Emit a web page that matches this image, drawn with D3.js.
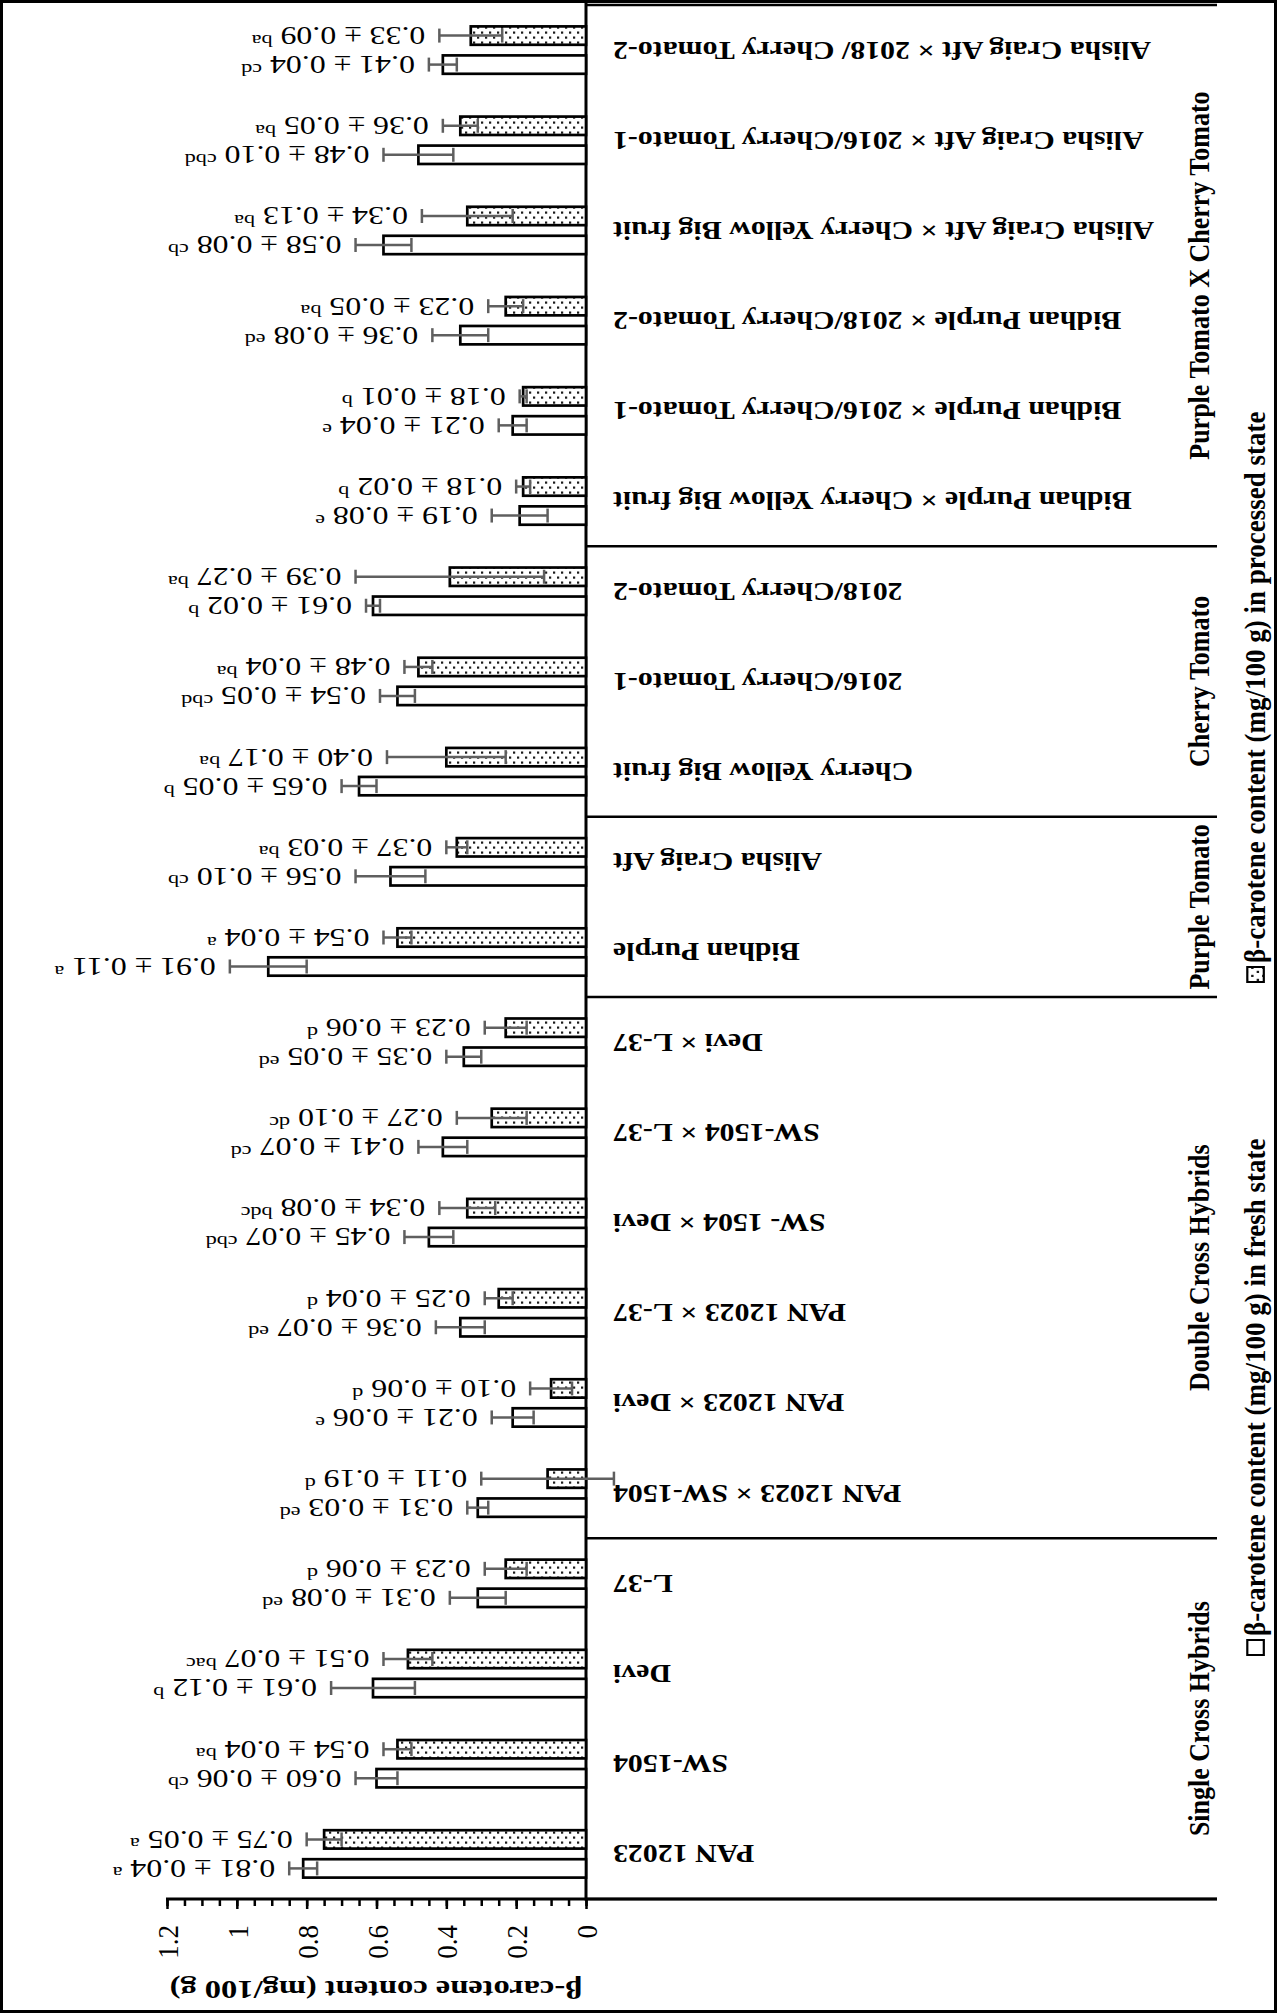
<!DOCTYPE html>
<html>
<head>
<meta charset="utf-8">
<script src="https://cdn.jsdelivr.net/npm/d3@7/dist/d3.min.js"></script>
<style>
  body { margin: 0; background: #fff; }
  svg { display: block; }
  text { font-family: "Liberation Serif", "Times New Roman", serif; fill: #000; }
</style>
</head>
<body>
<svg id="chart" width="1277" height="2013"></svg>
<script>
// Genotypes, in order along the category axis
const categories = [
  "PAN 12023", "SW-1504", "Devi", "L-37",
  "PAN 12023 × SW-1504", "PAN 12023 × Devi", "PAN 12023 × L-37",
  "SW- 1504 × Devi", "SW-1504 × L-37", "Devi × L-37",
  "Bidhan Purple", "Alisha Craig Aft",
  "Cherry Yellow Big fruit", "2016/Cherry Tomato-1", "2018/Cherry Tomato-2",
  "Bidhan Purple × Cherry Yellow Big fruit", "Bidhan Purple × 2016/Cherry Tomato-1",
  "Bidhan Purple × 2018/Cherry Tomato-2", "Alisha Craig Aft × Cherry Yellow Big fruit",
  "Alisha Craig Aft × 2016/Cherry Tomato-1", "Alisha Craig Aft × 2018/ Cherry Tomato-2"
];

// Genotype groups and how many genotypes each one holds
const groupNames = ["Single Cross Hybrids", "Double Cross Hybrids", "Purple Tomato",
                    "Cherry Tomato", "Purple Tomato X Cherry Tomato"];
const groupSizes = [4, 6, 2, 3, 6];

// β-carotene (mg/100 g), fresh fruit: mean, SD, significance letters
const freshMean = [0.81, 0.60, 0.61, 0.31, 0.31, 0.21, 0.36, 0.45, 0.41, 0.35,
                   0.91, 0.56, 0.65, 0.54, 0.61, 0.19, 0.21, 0.36, 0.58, 0.48, 0.41];
const freshSD   = [0.04, 0.06, 0.12, 0.08, 0.03, 0.06, 0.07, 0.07, 0.07, 0.05,
                   0.11, 0.10, 0.05, 0.05, 0.02, 0.08, 0.04, 0.08, 0.08, 0.10, 0.04];
const freshSig  = ["a", "cb", "b", "ed", "ed", "e", "ed", "cbd", "cd", "ed",
                   "a", "cb", "b", "cbd", "b", "e", "e", "ed", "cb", "cbd", "cd"];

// β-carotene (mg/100 g), processed product: mean, SD, significance letters
const procMean = [0.75, 0.54, 0.51, 0.23, 0.11, 0.10, 0.25, 0.34, 0.27, 0.23,
                  0.54, 0.37, 0.40, 0.48, 0.39, 0.18, 0.18, 0.23, 0.34, 0.36, 0.33];
const procSD   = [0.05, 0.04, 0.07, 0.06, 0.19, 0.06, 0.04, 0.08, 0.10, 0.06,
                  0.04, 0.03, 0.17, 0.04, 0.27, 0.02, 0.01, 0.05, 0.13, 0.05, 0.09];
const procSig  = ["a", "ba", "bac", "d", "d", "d", "d", "bdc", "dc", "d",
                  "a", "ba", "ba", "ba", "ba", "b", "b", "ba", "ba", "ba", "ba"];

// Value axis
const valueTicks = [0, 0.2, 0.4, 0.6, 0.8, 1, 1.2];
const valueTickLabels = ["0", "0.2", "0.4", "0.6", "0.8", "1", "1.2"];
const axisTitle = "β-carotene content (mg/100 g)";
const seriesKeys = ["processed", "fresh"];
const legendLabels = {
  fresh: "β-carotene content (mg/100 g) in fresh state",
  processed: "β-carotene content (mg/100 g) in processed state"
};

const svg = d3.select("#chart");

// dotted fill for the processed series
const defs = svg.append("defs");
const pat = defs.append("pattern").attr("id", "dots")
  .attr("patternUnits", "userSpaceOnUse").attr("width", 8).attr("height", 10);
pat.append("rect").attr("width", 8).attr("height", 10).attr("fill", "#fff");
pat.append("rect").attr("x", 1).attr("y", 1.5).attr("width", 2.2).attr("height", 2.2).attr("fill", "#1a1a1a");
pat.append("rect").attr("x", 5).attr("y", 6.5).attr("width", 2.2).attr("height", 2.2).attr("fill", "#1a1a1a");

// outer frame
svg.append("rect").attr("x", 1.5).attr("y", 1.5).attr("width", 1274).attr("height", 2010)
  .attr("fill", "none").attr("stroke", "#000").attr("stroke-width", 3);

// the chart is laid out turned on its side: values run leftwards, genotypes run upwards
const axisY = 1899, plotTop = 5;
const x = d3.scaleLinear().domain([0, 1.2]).range([586, 167]);
const y = d3.scaleBand().domain(categories).range([axisY, plotTop]);
const bw = y.bandwidth();
const ySub = d3.scaleBand().domain(seriesKeys).range([bw / 2 - 25, bw / 2 + 25]).paddingInner(0.276);

// rotated, stretched text helper
function rtext(parent, px, py, angle, sx, sy, str, size, weight, anchor) {
  return parent.append("text")
    .attr("transform", `translate(${px},${py}) rotate(${angle}) scale(${sx},${sy})`)
    .attr("text-anchor", anchor).attr("dy", "0.35em")
    .attr("font-size", size).attr("font-weight", weight)
    .text(str);
}

// value axis (minor + major ticks)
const minorAxis = d3.axisBottom(x).tickValues(d3.range(0, 1.2001, 0.05)).tickSize(7).tickFormat("");
svg.append("g").attr("transform", `translate(0,${axisY})`).call(minorAxis)
  .call(g => g.select(".domain").remove())
  .call(g => g.selectAll("line").attr("stroke", "#000").attr("stroke-width", 2.5));

const majorAxis = d3.axisBottom(x).tickValues(valueTicks).tickSize(10)
  .tickFormat((d, i) => valueTickLabels[i]);
svg.append("g").attr("transform", `translate(0,${axisY})`).call(majorAxis)
  .call(g => g.select(".domain").remove())
  .call(g => g.selectAll("line").attr("stroke", "#000").attr("stroke-width", 2.5))
  .call(g => g.selectAll("text")
    .attr("transform", "rotate(-90) scale(1,1.12)")
    .attr("x", -26).attr("y", 0).attr("dy", "0.35em")
    .attr("text-anchor", "end")
    .attr("font-size", 27)
    .attr("font-family", "Liberation Serif, serif")
    .attr("fill", "#000"));

// axis baseline, continuing under the genotype labels
svg.append("line").attr("x1", x(1.2) - 1).attr("x2", 1217).attr("y1", axisY).attr("y2", axisY)
  .attr("stroke", "#000").attr("stroke-width", 3);

// category axis
const catScale = 1.22;
const catAxis = d3.axisRight(y).tickSize(0).tickPadding(0);
svg.append("g").attr("transform", `translate(${x(0)},0)`).call(catAxis)
  .call(g => g.select(".domain").remove())
  .call(g => g.selectAll("text")
    .attr("transform", `rotate(180) scale(${catScale},1)`)
    .attr("x", -27 / catScale).attr("y", 0).attr("dy", "0.35em")
    .attr("text-anchor", "end")
    .attr("font-size", 24.5).attr("font-weight", "bold")
    .attr("font-family", "Liberation Serif, serif")
    .attr("fill", "#000"));
svg.append("line").attr("x1", x(0)).attr("x2", x(0)).attr("y1", plotTop - 2).attr("y2", axisY + 1.5)
  .attr("stroke", "#000").attr("stroke-width", 3);

// group dividers and group names
let start = 0;
const bounds = [0];
groupSizes.forEach(n => { start += n; bounds.push(start); });
bounds.forEach(b => {
  const yy = b === 0 ? axisY : y(categories[b - 1]);
  svg.append("line").attr("x1", x(0)).attr("x2", 1217).attr("y1", yy).attr("y2", yy)
    .attr("stroke", "#000").attr("stroke-width", 2.5);
});
groupNames.forEach((name, i) => {
  const lo = bounds[i] === 0 ? axisY : y(categories[bounds[i] - 1]);
  const hi = y(categories[bounds[i + 1] - 1]);
  rtext(svg, 1199, (lo + hi) / 2, -90, 1, 1.1, name, 26, "bold", "middle");
});

// bars, error bars and value labels
const series = [
  { key: "fresh", mean: freshMean, sd: freshSD, sig: freshSig, fill: "#fff" },
  { key: "processed", mean: procMean, sd: procSD, sig: procSig, fill: "url(#dots)" }
];
const plot = svg.append("g");
series.forEach(s => {
  const rows = categories.map((c, i) => ({ c, v: s.mean[i], e: s.sd[i], sig: s.sig[i] }));
  const g = plot.append("g");
  g.selectAll("rect").data(rows).join("rect")
    .attr("x", d => x(d.v)).attr("width", d => x(0) - x(d.v))
    .attr("y", d => y(d.c) + ySub(s.key) + 1.3).attr("height", ySub.bandwidth() - 2.6)
    .attr("fill", s.fill).attr("stroke", "#000").attr("stroke-width", 2.7);

  const eb = g.selectAll("g.err").data(rows).join("g").attr("class", "err")
    .attr("transform", d => `translate(0,${y(d.c) + ySub(s.key) + ySub.bandwidth() / 2})`)
    .attr("stroke", "#5f5f5f").attr("stroke-width", 2.5);
  eb.append("line").attr("x1", d => x(d.v - d.e)).attr("x2", d => x(d.v + d.e)).attr("y1", 0).attr("y2", 0);
  eb.append("line").attr("x1", d => x(d.v - d.e)).attr("x2", d => x(d.v - d.e)).attr("y1", -7).attr("y2", 7);
  eb.append("line").attr("x1", d => x(d.v + d.e)).attr("x2", d => x(d.v + d.e)).attr("y1", -7).attr("y2", 7);

  rows.forEach(d => {
    const t = g.append("text")
      .attr("transform", `translate(${x(d.v + d.e) - 14},${y(d.c) + ySub(s.key) + ySub.bandwidth() / 2}) rotate(180) scale(1.3,1)`)
      .attr("text-anchor", "start").attr("dy", "0.35em").attr("font-size", 24.5);
    t.append("tspan").text(`${d.v.toFixed(2)} ± ${d.e.toFixed(2)} `);
    t.append("tspan").attr("font-size", 17).attr("dy", "-0.45em").text(d.sig);
  });
});

// value axis title
rtext(svg, 376, 1990, 180, 1.25, 1, axisTitle, 26, "bold", "middle");

// legend, reading upwards along the right edge
function legendItem(yBase, key, fill) {
  const g = svg.append("g").attr("transform", `translate(1255,${yBase}) rotate(-90) scale(1,1.1)`);
  g.append("rect").attr("x", 0).attr("y", -7).attr("width", 15).attr("height", 15)
    .attr("fill", fill).attr("stroke", "#000").attr("stroke-width", 2);
  g.append("text").attr("x", 19).attr("y", 0).attr("dy", "0.35em")
    .attr("font-size", 27).attr("font-weight", "bold").text(legendLabels[key]);
}
legendItem(1655, "fresh", "#fff");
legendItem(982, "processed", "url(#dots)");
</script>
</body>
</html>
